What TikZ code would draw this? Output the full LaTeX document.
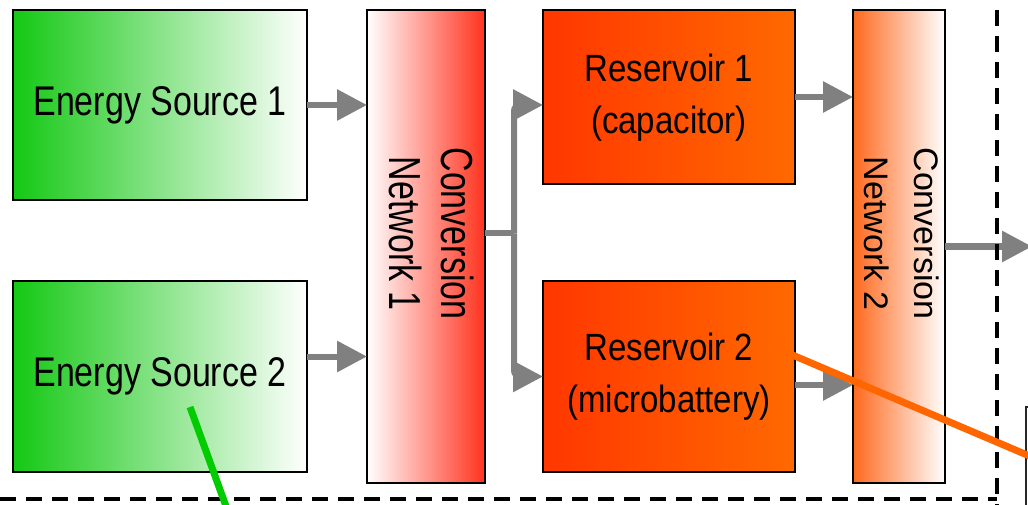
\documentclass[tikz,border=0pt]{standalone}
\usepackage{fontspec}
\newfontfamily\diagfont{Liberation Sans}
\usetikzlibrary{arrows.meta,positioning,calc}
\definecolor{srcgreen}{RGB}{20,200,20}
\definecolor{netred}{RGB}{255,50,30}
\definecolor{resred}{RGB}{255,55,0}
\definecolor{resorange}{RGB}{255,105,0}
\definecolor{netorange}{RGB}{255,105,30}
\definecolor{flowgray}{RGB}{128,128,128}
\definecolor{linkgreen}{RGB}{0,204,0}
\definecolor{linkorange}{RGB}{255,102,0}

\begin{document}
\begin{tikzpicture}[
    x=1pt, y=-1pt,
    blk/.style={rectangle,draw=black,line width=2pt,inner sep=0pt,outer sep=0pt,anchor=north west,
      font=\diagfont\fontsize{34}{40}\selectfont,align=center},
    srcbox/.style={blk,minimum width=294pt,left color=srcgreen,right color=white},
    resbox/.style={blk,minimum width=252pt,left color=resred,right color=resorange},
    netlbl/.style={inner sep=0pt,font=\diagfont\fontsize{34}{39}\selectfont},
    flow/.style={draw=flowgray,line width=6pt,-{Triangle[length=30pt,width=30pt]}},
    border/.style={line width=3.5pt,dash pattern=on 16pt off 10pt},
  ]
  \useasboundingbox (0,0) rectangle (1028,505);
  \clip (0,0) rectangle (1028,505);

  % sources
  \node[srcbox,minimum height=190pt] (es1) at (13,10) {\scalebox{1}[1.22]{Energy Source 1}};
  \node[srcbox,minimum height=191pt,below=81pt of es1] (es2) {\scalebox{1}[1.22]{Energy Source 2}};

  % first conversion stage
  \node[blk,minimum width=118pt,minimum height=473pt,right=60pt of es1.north east,anchor=north west,
    left color=white,middle color=netred!45!white,right color=netred] (cn1) {};
  \node[netlbl] (cn1txt) at ($(cn1.center)+(0,-13)$)
    {\rotatebox{-90}{\scalebox{1}[1.32]{\begin{tabular}{@{}c@{}}Conversion\\Network 1\end{tabular}}}};

  % reservoirs
  \node[resbox,minimum height=174pt,right=58pt of cn1.north east,anchor=north west] (res1)
    {\scalebox{1}[1.15]{\fontsize{33}{45}\selectfont\begin{tabular}{@{}c@{}}Reservoir 1\\(capacitor)\end{tabular}}};
  \node[resbox,minimum height=191pt,below=97pt of res1] (res2)
    {\scalebox{1}[1.15]{\fontsize{33}{45}\selectfont\begin{tabular}{@{}c@{}}Reservoir 2\\(microbattery)\end{tabular}}};

  % second conversion stage
  \node[blk,minimum width=92pt,minimum height=473pt,right=58pt of res1.north east,anchor=north west,
    left color=netorange,middle color=netorange!30!white,right color=white] (cn2) {};
  \node[netlbl,font=\diagfont\fontsize{34}{50}\selectfont] (cn2txt) at ($(cn2.center)+(0,-13)$)
    {\rotatebox{-90}{\begin{tabular}{@{}c@{}}Conversion\\Network 2\end{tabular}}};

  % power flow
  \draw[flow] (es1.east) -- (es1.east -| cn1.west);
  \draw[flow] ([yshift=20pt]es2.east) -- ([yshift=20pt]es2.east -| cn1.west);
  \coordinate (split) at ($(cn1.east |- cn1txt)+(29,0)$);
  \draw[draw=flowgray,line width=6pt] (cn1.east |- cn1txt) -- (split);
  \draw[flow,rounded corners=6pt] (split) |- ([yshift=-8pt]res1.west);
  \draw[flow,rounded corners=6pt] (split) |- ([yshift=0pt]res2.west);
  \draw[flow] (res1.east) -- (res1.east -| cn2.west);
  \draw[flow] ([yshift=-8.5pt]res2.east) -- ([yshift=-8.5pt]res2.east -| cn2.west);
  \draw[flow] (cn2.east) -- ++(87,0);

  % system boundary
  \draw[border] (997,10) -- (997,505);
  \draw[border] (0,499) -- (997,499);
  \draw[line width=2pt,draw=black!85] (1026,407) rectangle (1100,560);

  % links out of the picture
  \coordinate (gstart) at (190,407);
  \coordinate (ostart) at (769,345);
  \draw[linkgreen,line width=7pt] (gstart) -- (231,520);
  \draw[linkorange,line width=7pt] (ostart) -- (1060,469);
\end{tikzpicture}
\end{document}
